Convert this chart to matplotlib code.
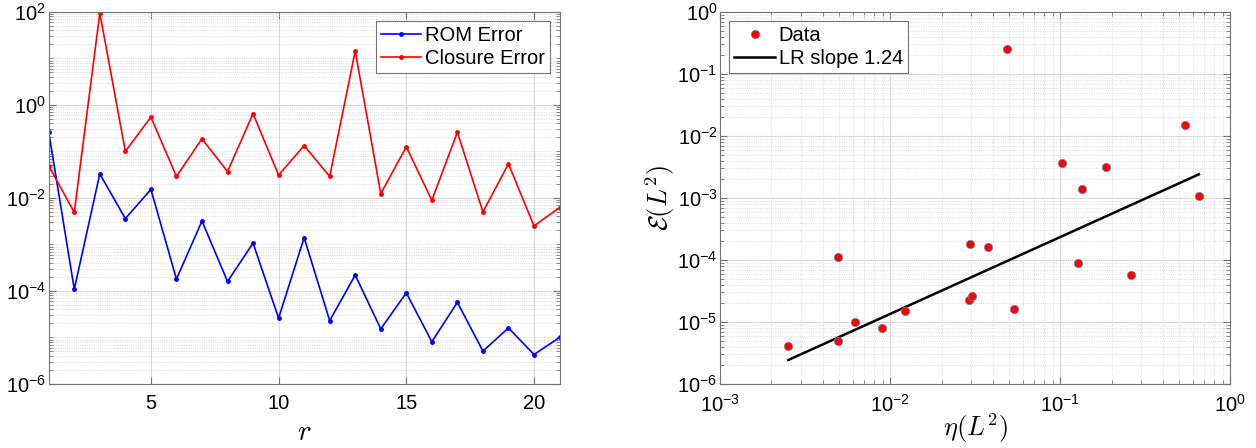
import numpy as np
import matplotlib
matplotlib.use("Agg")
import matplotlib.pyplot as plt
from matplotlib.ticker import LogLocator, FuncFormatter, NullFormatter, FixedLocator

plt.rcParams['font.family'] = ['Liberation Sans', 'DejaVu Sans']
plt.rcParams['mathtext.fontset'] = 'cm'

# ---------------- data ----------------
r_values = list(range(1, 22))
rom_error = [0.26, 1.09e-4, 0.033, 0.0036, 0.0153, 1.8e-4, 0.0032, 1.6e-4, 0.00107, 2.6e-5,
             0.0014, 2.3e-5, 2.2e-4, 1.53e-5, 9.1e-5, 8.1e-6, 5.7e-5, 5.1e-6, 1.6e-5, 4.3e-6, 1.0e-5]
closure_error = [0.049, 0.0049, 95.0, 0.10, 0.55, 0.029, 0.187, 0.037, 0.65, 0.031,
                 0.134, 0.029, 14.4, 0.0124, 0.126, 0.0089, 0.26, 0.005, 0.054, 0.0025, 0.0062]

eta_L2 = [0.00251, 0.00494, 0.00492, 0.00618, 0.00893, 0.01217, 0.0291, 0.0304, 0.0294, 0.0374,
          0.0483, 0.0532, 0.1019, 0.1274, 0.1337, 0.186, 0.261, 0.542, 0.653]
calE_L2 = [4.14e-6, 4.98e-6, 1.1e-4, 1.0e-5, 8.05e-6, 1.53e-5, 2.3e-5, 2.6e-5, 1.8e-4, 1.61e-4,
           0.254, 1.61e-5, 3.66e-3, 8.93e-5, 1.42e-3, 3.15e-3, 5.73e-5, 0.0151, 1.08e-3]
lr_slope = 1.24
lr_log_intercept = -2.389

# ---------------- figure ----------------
fig = plt.figure(figsize=(12.56, 4.48), dpi=100)
ax1 = fig.add_axes([0.0388, 0.1429, 0.4067, 0.8304])
ax2 = fig.add_axes([0.5735, 0.1429, 0.4061, 0.8304])

def pow_fmt(v, pos):
    e = int(round(np.log10(v)))
    return r'$\mathregular{10^{%d}}$' % e

def style(ax):
    for s in ax.spines.values():
        s.set_color((0.45, 0.45, 0.45))
        s.set_linewidth(0.8)
    ax.tick_params(which='both', direction='in', colors=(0.45, 0.45, 0.45),
                   labelcolor='black', labelsize=14.5, top=True, right=True)
    ax.tick_params(which='major', length=5)
    ax.tick_params(which='minor', length=3)
    ax.tick_params(axis='x', which='major', pad=7)
    ax.grid(True, which='major', color=(0.85, 0.85, 0.85), linewidth=0.8, linestyle='-')
    ax.set_axisbelow(True)

# Left panel
ax1.semilogy(r_values, rom_error, '-', color='blue', marker='o', markersize=2.5, linewidth=1.2,
             label='ROM Error')
ax1.semilogy(r_values, closure_error, '-', color='red', marker='o', markersize=2.5, linewidth=1.2,
             label='Closure Error')
ax1.set_xlim(1, 21)
ax1.set_ylim(1e-6, 1e2)
ax1.xaxis.set_major_locator(FixedLocator([5, 10, 15, 20]))
ax1.yaxis.set_major_locator(FixedLocator([1e-6, 1e-4, 1e-2, 1e0, 1e2]))
ax1.yaxis.set_major_formatter(FuncFormatter(pow_fmt))
ax1.yaxis.set_minor_locator(LogLocator(base=10, subs=np.arange(1, 10), numticks=30))
ax1.yaxis.set_minor_formatter(NullFormatter())
style(ax1)
ax1.tick_params(axis='y', which='major', pad=2)
ax1.grid(True, which='minor', axis='y', color=(0.82, 0.82, 0.82), linewidth=0.6, linestyle=':')
ax1.set_xlabel(r'$r$', fontsize=21, labelpad=4)
leg1 = ax1.legend(loc='upper right', fontsize=14.5, frameon=True, fancybox=False,
                  edgecolor=(0.45, 0.45, 0.45), framealpha=1, handlelength=2.0,
                  borderpad=0.25, labelspacing=0.2, handletextpad=0.2,
                  borderaxespad=0.45)
leg1.get_frame().set_linewidth(0.8)

# Right panel
ax2.loglog(eta_L2, calE_L2, 'o', color='red', markeredgecolor=(0.45, 0.5, 0.7),
           markeredgewidth=0.5, markersize=6, linestyle='none', label='Data', zorder=3)
xfit = np.array([min(eta_L2), max(eta_L2)])
yfit = 10 ** (lr_log_intercept + lr_slope * np.log10(xfit))
ax2.loglog(xfit, yfit, '-', color='black', linewidth=1.8, label='LR slope %.2f' % lr_slope)
ax2.set_xlim(1e-3, 1)
ax2.set_ylim(1e-6, 1)
ax2.xaxis.set_major_locator(LogLocator(base=10, numticks=10))
ax2.yaxis.set_major_locator(LogLocator(base=10, numticks=10))
ax2.xaxis.set_major_formatter(FuncFormatter(pow_fmt))
ax2.yaxis.set_major_formatter(FuncFormatter(pow_fmt))
ax2.xaxis.set_minor_locator(LogLocator(base=10, subs=np.arange(2, 10), numticks=30))
ax2.yaxis.set_minor_locator(LogLocator(base=10, subs=np.arange(2, 10), numticks=30))
ax2.xaxis.set_minor_formatter(NullFormatter())
ax2.yaxis.set_minor_formatter(NullFormatter())
style(ax2)
ax2.tick_params(axis='y', which='major', pad=2)
ax2.grid(True, which='minor', color=(0.82, 0.82, 0.82), linewidth=0.6, linestyle=':')
ax2.set_xlabel(r'$\eta(L^2)$', fontsize=19, labelpad=-3)
ax2.set_ylabel(r'$\mathcal{E}(L^2)$', fontsize=19, labelpad=0)
leg2 = ax2.legend(loc='upper left', fontsize=14.5, frameon=True, fancybox=False,
                  edgecolor=(0.45, 0.45, 0.45), framealpha=1, handlelength=2.0,
                  borderpad=0.25, labelspacing=0.2, handletextpad=0.2,
                  borderaxespad=0.45)
leg2.get_frame().set_linewidth(0.8)

fig.savefig('out.png', dpi=100)
